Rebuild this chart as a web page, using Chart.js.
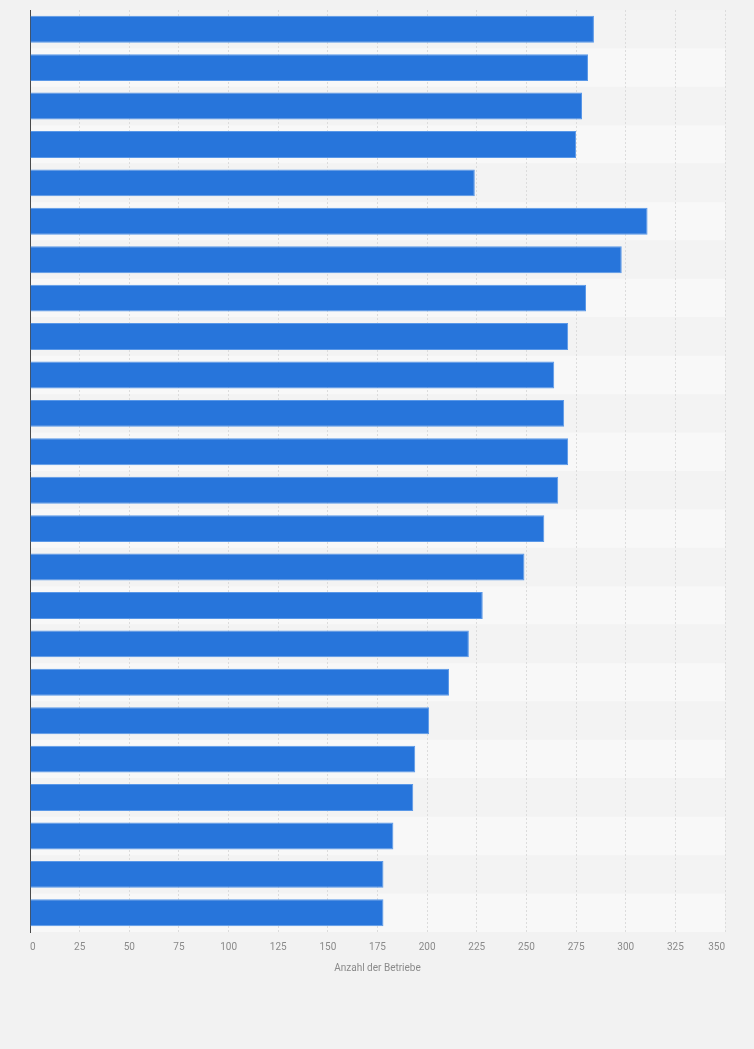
<!DOCTYPE html>
<html>
<head>
<meta charset="utf-8">
<script src="https://cdn.jsdelivr.net/npm/chart.js@4"></script>
<style>
  html, body { margin: 0; padding: 0; background: #f2f2f2; }
  #wrap { width: 754px; height: 1049px; }
</style>
</head>
<body>
<div id="wrap"><canvas id="chart" width="754" height="1049"></canvas></div>
<script>
// 24 Kategorien, im Original ohne sichtbare Beschriftung
const categories = ["", "", "", "", "", "", "", "", "", "", "", "", "", "", "", "", "", "", "", "", "", "", "", ""];
const betriebe = [284, 281, 278, 275, 224, 311, 298, 280, 271, 264, 269, 271, 266, 259, 249, 228, 221, 211, 201, 194, 193, 183, 178, 178];
const xTicks = [0, 25, 50, 75, 100, 125, 150, 175, 200, 225, 250, 275, 300, 325, 350];
const axisTitle = "Anzahl der Betriebe";

// abwechselnde Zeilenhintergründe
const rowBands = {
  id: "rowBands",
  beforeDraw(chart) {
    const { ctx, chartArea, scales } = chart;
    const y = scales.y;
    const half = (y.getPixelForValue(1) - y.getPixelForValue(0)) / 2;
    ctx.save();
    categories.forEach((c, i) => {
      const py = y.getPixelForValue(i);
      ctx.fillStyle = i % 2 === 0 ? "#f3f3f3" : "#f8f8f8";
      ctx.fillRect(chartArea.left, py - half, chartArea.right - chartArea.left, half * 2);
    });
    ctx.restore();
  }
};

const ctx = document.getElementById("chart").getContext("2d");
new Chart(ctx, {
  type: "bar",
  data: {
    labels: categories,
    datasets: [{
      label: axisTitle,
      data: betriebe,
      backgroundColor: "#2775db",
      borderColor: "#5a98e8",
      borderWidth: 1,
      borderSkipped: "left",
      categoryPercentage: 1,
      barPercentage: 0.7
    }]
  },
  options: {
    indexAxis: "y",
    responsive: false,
    animation: false,
    layout: { padding: { left: 22, right: 29, top: 10, bottom: 75 } },
    plugins: {
      legend: { display: false },
      tooltip: { enabled: false }
    },
    scales: {
      x: {
        min: 0,
        max: 350,
        afterBuildTicks: (scale) => { scale.ticks = xTicks.map(v => ({ value: v })); },
        grid: {
          color: "#dcdcdc",
          lineWidth: 1,
          drawTicks: false
        },
        border: { display: false, dash: [2, 2] },
        ticks: {
          color: "#8a8a8a",
          font: { family: "Roboto, Arial, sans-serif", size: 10 },
          padding: 9,
          align: "inner",
          maxRotation: 0
        },
        title: {
          display: true,
          text: axisTitle,
          color: "#8a8a8a",
          font: { family: "Roboto, Arial, sans-serif", size: 10 },
          padding: { top: 0, bottom: 0 }
        }
      },
      y: {
        grid: { display: false },
        border: { display: true, color: "#4a4a4a", width: 1 },
        ticks: { display: false }
      }
    }
  },
  plugins: [rowBands]
});
</script>
</body>
</html>
